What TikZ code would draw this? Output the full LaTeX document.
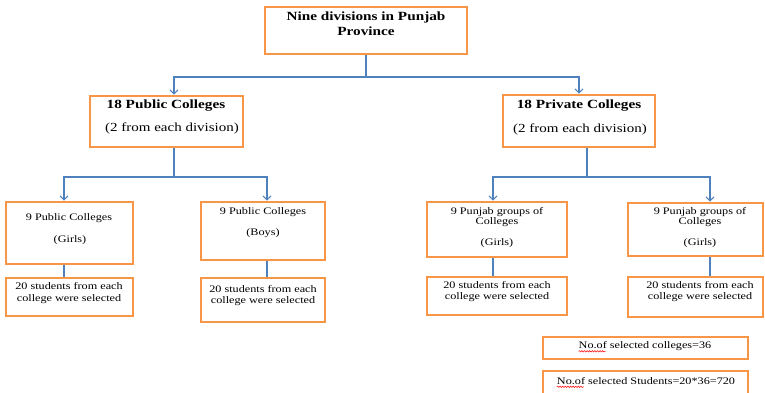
\documentclass[tikz,border=0pt]{standalone}
\usepackage{fontspec}
\setmainfont[FakeStretch=1.22]{Liberation Serif}
\usetikzlibrary{arrows.meta,decorations.pathmorphing}
\definecolor{boxorange}{HTML}{F79646}
\definecolor{linkblue}{HTML}{4F81BD}
\tikzset{
  box/.style={draw=boxorange, line width=2.6pt, fill=white, inner sep=0pt},
  link/.style={draw=linkblue, line width=1.1pt},
  linkarrow/.style={link, -{Straight Barb[length=4pt,width=8pt,line width=1.1pt]}},
  bigbold/.style={inner sep=0pt, anchor=mid, font=\fontsize{12.5}{14}\selectfont\bfseries},
  bigtext/.style={inner sep=0pt, anchor=mid, font=\fontsize{12.3}{14}\selectfont},
  smalltext/.style={inner sep=0pt, anchor=mid, font=\fontsize{10}{12}\selectfont},
  spell/.style={draw=red, line width=0.5pt, decorate, decoration={snake, amplitude=0.7pt, segment length=2.6pt}}
}
\begin{document}
\begin{tikzpicture}[x=1pt,y=-1pt]
\clip (0,0) rectangle (765,392);
\useasboundingbox (0,0) rectangle (765,392);

% boxes
\node[box, minimum width=202pt, minimum height=47pt] (top) at (366,30.5) {};
\node[box, minimum width=153pt, minimum height=51pt] (pub) at (166.5,121.5) {};
\node[box, minimum width=152pt, minimum height=52pt] (priv) at (579,121) {};
\node[box, minimum width=127pt, minimum height=62pt] (g1) at (69.5,233) {};
\node[box, minimum width=127pt, minimum height=38pt] (s1) at (69.5,297) {};
\node[box, minimum width=124pt, minimum height=58pt] (g2) at (263,231) {};
\node[box, minimum width=124pt, minimum height=44pt] (s2) at (263,300) {};
\node[box, minimum width=140pt, minimum height=55pt] (g3) at (497,229.5) {};
\node[box, minimum width=140pt, minimum height=38pt] (s3) at (497,296) {};
\node[box, minimum width=135pt, minimum height=53pt] (g4) at (695.5,229.5) {};
\node[box, minimum width=135pt, minimum height=40pt] (s4) at (695.5,297) {};
\node[box, minimum width=205pt, minimum height=22pt] (n1) at (645.5,348) {};
\node[box, minimum width=205pt, minimum height=24pt] (n2) at (645.5,383) {};

% texts
\node[bigbold] (t0a) at (366,18) {Nine divisions in Punjab};
\node[bigbold] (t0b) at (366,33) {Province};
\node[bigbold] (tpa) at (166,106) {18 Public Colleges};
\node[bigtext] (tpb) at (172,129.5) {(2 from each division)};
\node[bigbold] (tra) at (579,106) {18 Private Colleges};
\node[bigtext] (trb) at (580,130) {(2 from each division)};

\node[smalltext] (g1a) at (69,218) {9 Public Colleges};
\node[smalltext] (g1b) at (70,240) {(Girls)};
\node[smalltext] (s1a) at (69,287) {20 students from each};
\node[smalltext] (s1b) at (69,299) {college were selected};

\node[smalltext] (g2a) at (263,212) {9 Public Colleges};
\node[smalltext] (g2b) at (263,233) {(Boys)};
\node[smalltext] (s2a) at (263,290) {20 students from each};
\node[smalltext] (s2b) at (263,301) {college were selected};

\node[smalltext] (g3a) at (497,212) {9 Punjab groups of};
\node[smalltext] (g3b) at (497,222) {Colleges};
\node[smalltext] (g3c) at (497,243) {(Girls)};
\node[smalltext] (s3a) at (497,286) {20 students from each};
\node[smalltext] (s3b) at (497,297) {college were selected};

\node[smalltext] (g4a) at (700,212) {9 Punjab groups of};
\node[smalltext] (g4b) at (700,222) {Colleges};
\node[smalltext] (g4c) at (700,243) {(Girls)};
\node[smalltext] (s4a) at (700,286) {20 students from each};
\node[smalltext] (s4b) at (700,297) {college were selected};

\node[smalltext] (n1t) at (645,346.5) {No.of selected colleges=36};
\node[smalltext] (n2t) at (646,382) {No.of selected Students=20*36=720};
\draw[spell] ([yshift=-2.5pt]n1t.base west) -- ++(27,0);
\draw[spell] ([yshift=-2.5pt]n2t.base west) -- ++(27,0);

% connectors
\coordinate (j0) at (366,77);
\coordinate (j1) at (174,177);
\coordinate (j2) at (587,177);
\draw[linkarrow] (top.south) -- (j0) -| ([xshift=7.5pt]pub.north);
\draw[linkarrow] (j0) -| (priv.north);
\draw[link] ([xshift=7.5pt]pub.south) -- (j1);
\draw[linkarrow] (j1) -| ([xshift=-5.5pt]g1.north);
\draw[linkarrow] (j1) -| ([xshift=4pt]g2.north);
\draw[link] ([xshift=8pt]priv.south) -- (j2);
\draw[linkarrow] (j2) -| ([xshift=-4pt]g3.north);
\draw[linkarrow] (j2) -| ([xshift=14.5pt]g4.north);

\draw[link] ([xshift=-5.5pt]g1.south) -- ([xshift=-5.5pt]s1.north);
\draw[link] ([xshift=4pt]g2.south) -- ([xshift=4pt]s2.north);
\draw[link] ([xshift=-4pt]g3.south) -- ([xshift=-4pt]s3.north);
\draw[link] ([xshift=14.5pt]g4.south) -- ([xshift=14.5pt]s4.north);
\end{tikzpicture}
\end{document}
